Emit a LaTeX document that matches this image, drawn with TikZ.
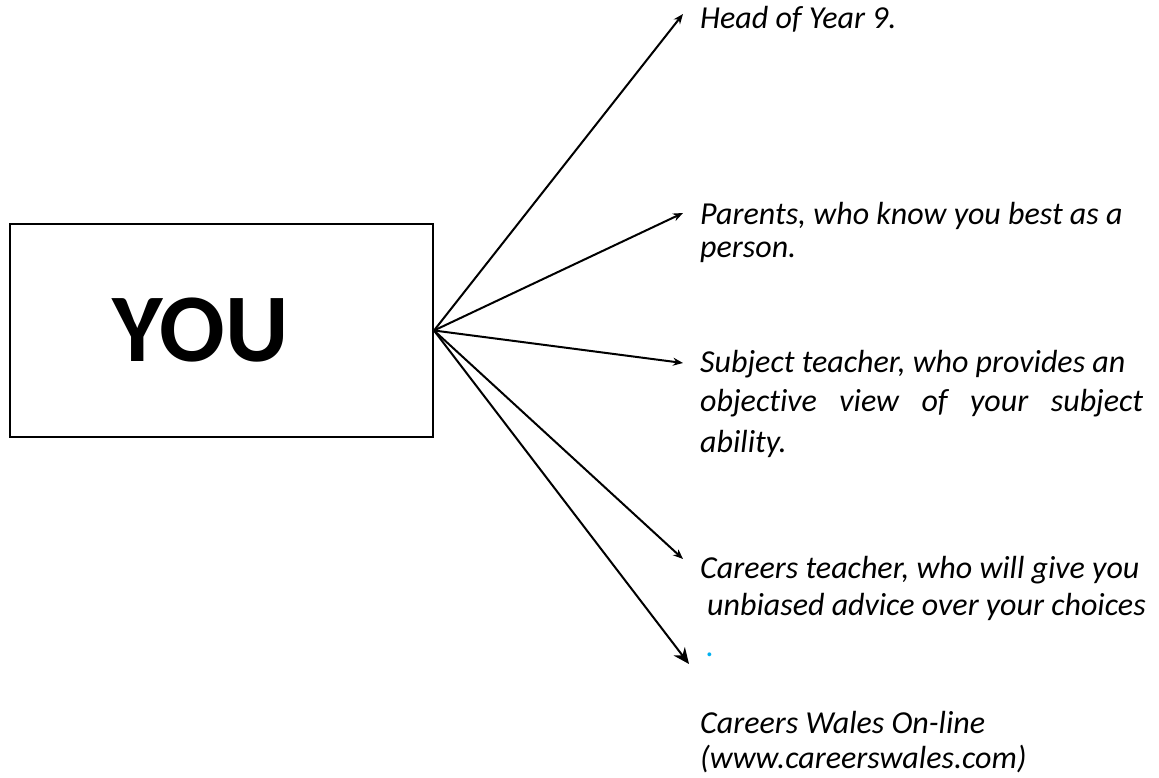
\documentclass[tikz,border=0pt]{standalone}
\usepackage{fontspec}
\setmainfont{Carlito}[Ligatures={NoCommon}]
\usetikzlibrary{arrows.meta}
\definecolor{dotblue}{HTML}{00B0F0}
\begin{document}
\begin{tikzpicture}[x=1pt,y=-1pt,
  box/.style={draw=black,line width=2pt,minimum width=423pt,minimum height=213pt,inner sep=0pt,font=\fontsize{97}{100}\selectfont\bfseries},
  lbl/.style={anchor=base west,inner sep=0pt,font=\fontsize{32}{38}\selectfont\itshape},
  arr/.style={line width=2pt,-{Stealth[length=10pt,width=8pt]}},
  bigarr/.style={line width=2pt,-{Stealth[length=16pt,width=14pt]}}]
\useasboundingbox (0,0) rectangle (1159,778);
\node[box] (you) at (221.5,330.5) {\hbox{\raisebox{-5pt}{YOU}\kern42pt}};
\coordinate (t1) at (683,14);
\coordinate (t2) at (683,213);
\coordinate (t3) at (683,363);
\coordinate (t4) at (683,559);
\coordinate (t5) at (689,664);
\node[lbl] (head) at (700,29) {Head of Year 9.};
\node[lbl] (par1) at (700,225) {Parents, who know you best as a};
\node[lbl] (par2) at (700,257) {person.};
\node[lbl] (sub1) at (700,372) {Subject teacher, who provides an};
\node[lbl] (sub2) at (700,411) {\makebox[443pt][s]{objective view of your subject}};
\node[lbl] (sub3) at (700,452) {ability.};
\node[lbl] (car1) at (700,578) {Careers teacher, who will give you};
\node[lbl] (car2) at (707,615) {unbiased advice over your choices};
\node[lbl,text=dotblue] (dot) at (706,656) {.};
\node[lbl] (cw1) at (700,733) {Careers Wales On-line};
\node[lbl] (cw2) at (700,768) {(www.careerswales.com)};
\draw[arr] (you.east) -- (t1);
\draw[arr] (you.east) -- (t2);
\draw[arr] (you.east) -- (t3);
\draw[arr] (you.east) -- (t4);
\draw[bigarr] (you.east) -- (t5);
\end{tikzpicture}
\end{document}
